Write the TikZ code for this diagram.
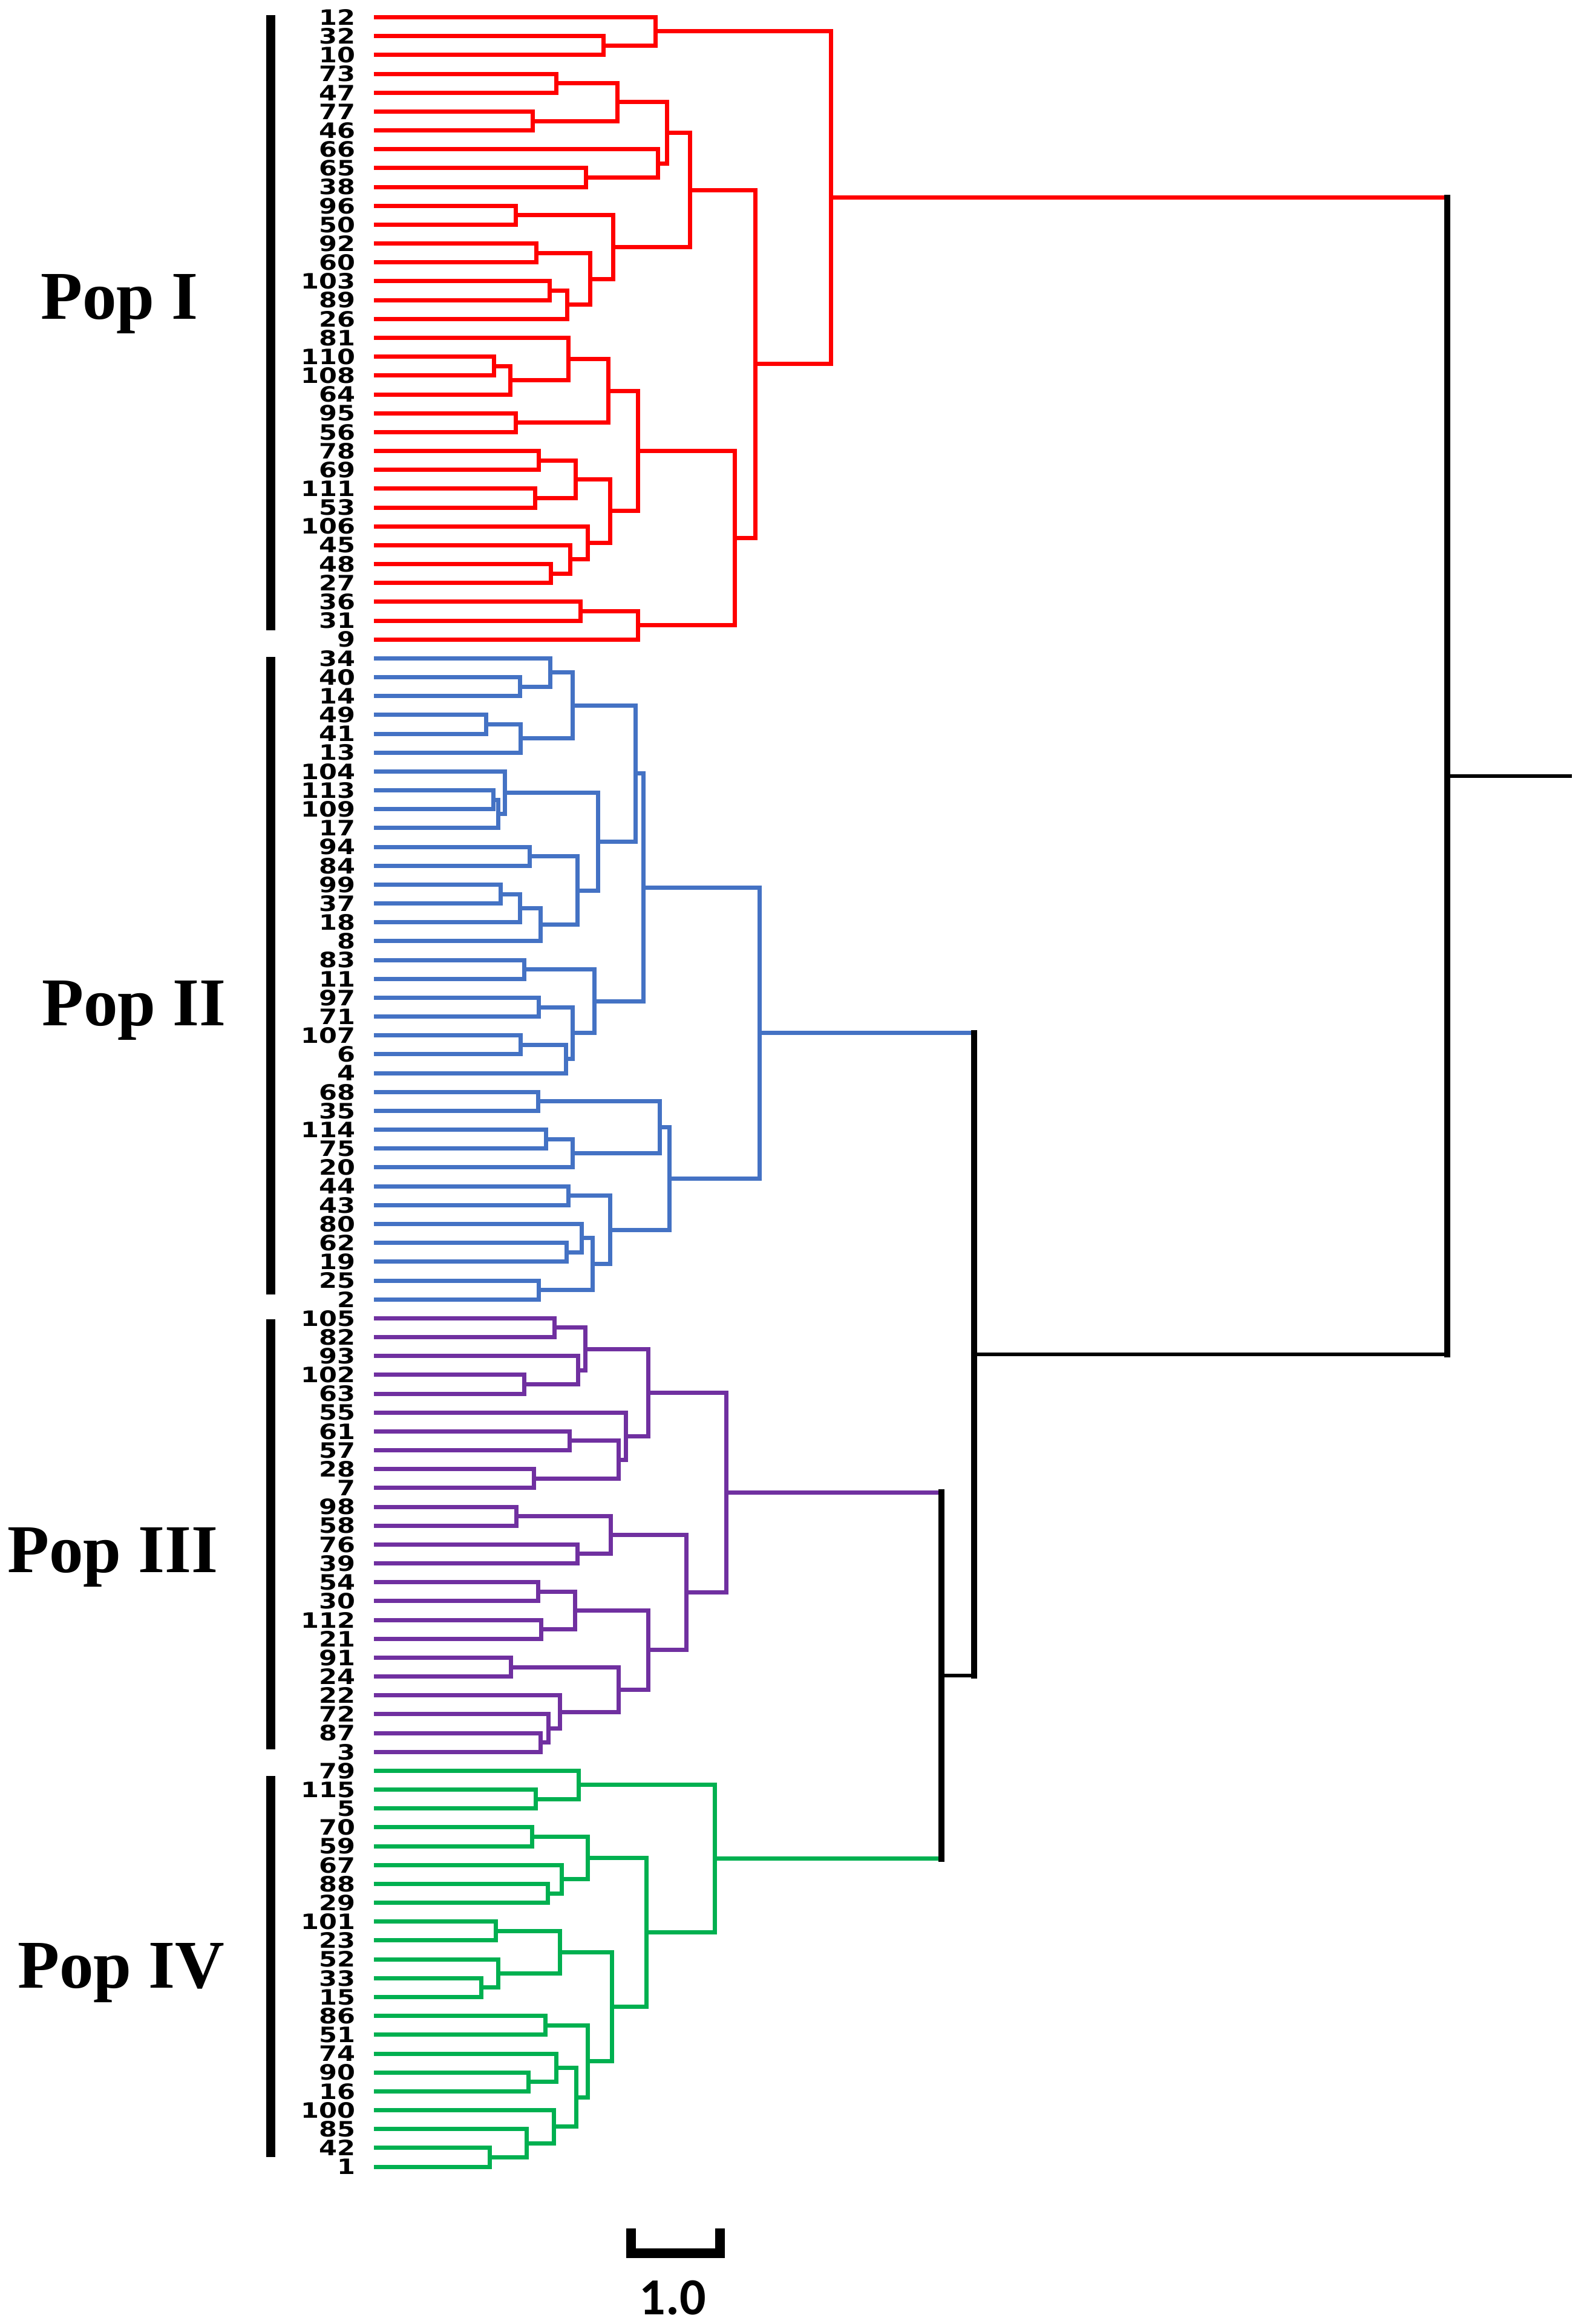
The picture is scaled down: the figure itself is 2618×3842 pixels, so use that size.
\documentclass[tikz,border=0pt]{standalone}
\usepackage{fontspec}
\usepackage{graphicx}
\newfontfamily\lblf{DejaVu Sans}
\newfontfamily\popf{Liberation Serif}
\newfontfamily\sclf{Carlito}
\definecolor{cI}{RGB}{255,0,0}
\definecolor{cII}{HTML}{4472C4}
\definecolor{cIII}{HTML}{7030A0}
\definecolor{cIV}{HTML}{00B050}
\tikzset{
  lnI/.style={draw=cI,line width=7pt,line join=miter},
  lnII/.style={draw=cII,line width=7pt,line join=miter},
  lnIII/.style={draw=cIII,line width=7pt,line join=miter},
  lnIV/.style={draw=cIV,line width=7pt,line join=miter},
  blkh/.style={draw=black,line width=6pt},
  blkv/.style={draw=black,line width=10pt,line cap=rect},
  lbl/.style={anchor=east,inner sep=0pt,text=black,font=\lblf\bfseries\fontsize{35pt}{35pt}\selectfont},
  poplbl/.style={anchor=base west,inner sep=0pt,font=\popf\bfseries\fontsize{113pt}{113pt}\selectfont},
  popbar/.style={draw=black,line width=15pt},
  sclbl/.style={anchor=base,inner sep=0pt,font=\sclf\bfseries\fontsize{86pt}{86pt}\selectfont}
}
\newcommand\leafnode[2]{%
  \pgfmathsetmacro\tmpy{28.6+31.17*#1}%
  \expandafter\xdef\csname Y@l#2\endcsname{\tmpy}%
  \node[lbl] (t#2) at (588,\tmpy) {\scalebox{1.23}[1]{#2}};%
  \coordinate (l#2) at (618,\tmpy);%
}
\newcommand\joinnode[5]{%
  \pgfmathsetmacro\tmpy{0.5*(\csname Y@#3\endcsname+\csname Y@#4\endcsname)}%
  \expandafter\xdef\csname Y@#1\endcsname{\tmpy}%
  \coordinate (#1) at (#2,\tmpy);%
  \draw[#5] (#3) -| (#1) |- (#4);%
}
\newcommand\topjoin[6]{%
  \pgfmathsetmacro\tmpy{0.5*(\csname Y@#3\endcsname+\csname Y@#5\endcsname)}%
  \expandafter\xdef\csname Y@#1\endcsname{\tmpy}%
  \coordinate (#1) at (#2,\tmpy);%
  \draw[#4] (#3) -- (#1 |- #3);%
  \draw[#6] (#5) -- (#1 |- #5);%
  \draw[blkv] (#1 |- #3) -- (#1 |- #5);%
}
\begin{document}
\begin{tikzpicture}[x=1pt,y=-1pt]
\useasboundingbox (0,0) rectangle (2618,3842);
% leaves
\foreach \lab [count=\i from 0] in {12,32,10,73,47,77,46,66,65,38,96,50,92,60,103,89,26,81,110,108,64,95,56,78,69,111,53,106,45,48,27,36,31,9,
34,40,14,49,41,13,104,113,109,17,94,84,99,37,18,8,83,11,97,71,107,6,4,68,35,114,75,20,44,43,80,62,19,25,2,
105,82,93,102,63,55,61,57,28,7,98,58,76,39,54,30,112,21,91,24,22,72,87,3,
79,115,5,70,59,67,88,29,101,23,52,33,15,86,51,74,90,16,100,85,42,1}
  {\leafnode{\i}{\lab}}
% Pop I
\joinnode{a1}{997}{l32}{l10}{lnI}
\joinnode{a2}{1083}{l12}{a1}{lnI}
\joinnode{a3}{919}{l73}{l47}{lnI}
\joinnode{a4}{880}{l77}{l46}{lnI}
\joinnode{a5}{1020}{a3}{a4}{lnI}
\joinnode{a6}{968}{l65}{l38}{lnI}
\joinnode{a7}{1087}{l66}{a6}{lnI}
\joinnode{a8}{1102}{a5}{a7}{lnI}
\joinnode{a9}{852}{l96}{l50}{lnI}
\joinnode{a10}{886}{l92}{l60}{lnI}
\joinnode{a11}{908}{l103}{l89}{lnI}
\joinnode{a12}{937}{a11}{l26}{lnI}
\joinnode{a13}{975}{a10}{a12}{lnI}
\joinnode{a14}{1013}{a9}{a13}{lnI}
\joinnode{a15}{1140}{a8}{a14}{lnI}
\joinnode{a16}{816}{l110}{l108}{lnI}
\joinnode{a17}{843}{a16}{l64}{lnI}
\joinnode{a18}{939}{l81}{a17}{lnI}
\joinnode{a19}{852}{l95}{l56}{lnI}
\joinnode{a20}{1005}{a18}{a19}{lnI}
\joinnode{a21}{890}{l78}{l69}{lnI}
\joinnode{a22}{884}{l111}{l53}{lnI}
\joinnode{a23}{951}{a21}{a22}{lnI}
\joinnode{a24}{910}{l48}{l27}{lnI}
\joinnode{a25}{942}{l45}{a24}{lnI}
\joinnode{a26}{971}{l106}{a25}{lnI}
\joinnode{a27}{1008}{a23}{a26}{lnI}
\joinnode{a28}{1054}{a20}{a27}{lnI}
\joinnode{a29}{959}{l36}{l31}{lnI}
\joinnode{a30}{1054}{a29}{l9}{lnI}
\joinnode{a31}{1214}{a28}{a30}{lnI}
\joinnode{a32}{1248}{a15}{a31}{lnI}
\joinnode{pI}{1373}{a2}{a32}{lnI}
% Pop II
\joinnode{b1}{859}{l40}{l14}{lnII}
\joinnode{b2}{909}{l34}{b1}{lnII}
\joinnode{b3}{803}{l49}{l41}{lnII}
\joinnode{b4}{860}{b3}{l13}{lnII}
\joinnode{b5}{946}{b2}{b4}{lnII}
\joinnode{b6}{815}{l113}{l109}{lnII}
\joinnode{b7}{823}{b6}{l17}{lnII}
\joinnode{b8}{834}{l104}{b7}{lnII}
\joinnode{b9}{875}{l94}{l84}{lnII}
\joinnode{b10}{827}{l99}{l37}{lnII}
\joinnode{b11}{859}{b10}{l18}{lnII}
\joinnode{b12}{893}{b11}{l8}{lnII}
\joinnode{b13}{954}{b9}{b12}{lnII}
\joinnode{b14}{988}{b8}{b13}{lnII}
\joinnode{b15}{1050}{b5}{b14}{lnII}
\joinnode{b16}{866}{l83}{l11}{lnII}
\joinnode{b17}{890}{l97}{l71}{lnII}
\joinnode{b18}{860}{l107}{l6}{lnII}
\joinnode{b19}{935}{b18}{l4}{lnII}
\joinnode{b20}{946}{b17}{b19}{lnII}
\joinnode{b21}{982}{b16}{b20}{lnII}
\joinnode{b22}{1063}{b15}{b21}{lnII}
\joinnode{b23}{889}{l68}{l35}{lnII}
\joinnode{b24}{902}{l114}{l75}{lnII}
\joinnode{b25}{946}{b24}{l20}{lnII}
\joinnode{b26}{1090}{b23}{b25}{lnII}
\joinnode{b27}{939}{l44}{l43}{lnII}
\joinnode{b28}{936}{l62}{l19}{lnII}
\joinnode{b29}{961}{l80}{b28}{lnII}
\joinnode{b30}{890}{l25}{l2}{lnII}
\joinnode{b31}{979}{b29}{b30}{lnII}
\joinnode{b32}{1008}{b27}{b31}{lnII}
\joinnode{b33}{1106}{b26}{b32}{lnII}
\joinnode{pII}{1255}{b22}{b33}{lnII}
% Pop III
\joinnode{c1}{916}{l105}{l82}{lnIII}
\joinnode{c2}{866}{l102}{l63}{lnIII}
\joinnode{c3}{955}{l93}{c2}{lnIII}
\joinnode{c4}{967}{c1}{c3}{lnIII}
\joinnode{c5}{941}{l61}{l57}{lnIII}
\joinnode{c6}{882}{l28}{l7}{lnIII}
\joinnode{c7}{1022}{c5}{c6}{lnIII}
\joinnode{c8}{1034}{l55}{c7}{lnIII}
\joinnode{c9}{1071}{c4}{c8}{lnIII}
\joinnode{c10}{853}{l98}{l58}{lnIII}
\joinnode{c11}{954}{l76}{l39}{lnIII}
\joinnode{c12}{1009}{c10}{c11}{lnIII}
\joinnode{c13}{889}{l54}{l30}{lnIII}
\joinnode{c14}{894}{l112}{l21}{lnIII}
\joinnode{c15}{950}{c13}{c14}{lnIII}
\joinnode{c16}{844}{l91}{l24}{lnIII}
\joinnode{c17}{893}{l87}{l3}{lnIII}
\joinnode{c18}{906}{l72}{c17}{lnIII}
\joinnode{c19}{925}{l22}{c18}{lnIII}
\joinnode{c20}{1022}{c16}{c19}{lnIII}
\joinnode{c21}{1071}{c15}{c20}{lnIII}
\joinnode{c22}{1134}{c12}{c21}{lnIII}
\joinnode{pIII}{1200}{c9}{c22}{lnIII}
% Pop IV
\joinnode{d1}{885}{l115}{l5}{lnIV}
\joinnode{d2}{956}{l79}{d1}{lnIV}
\joinnode{d3}{879}{l70}{l59}{lnIV}
\joinnode{d4}{905}{l88}{l29}{lnIV}
\joinnode{d5}{928}{l67}{d4}{lnIV}
\joinnode{d6}{971}{d3}{d5}{lnIV}
\joinnode{d7}{819}{l101}{l23}{lnIV}
\joinnode{d8}{795}{l33}{l15}{lnIV}
\joinnode{d9}{823}{l52}{d8}{lnIV}
\joinnode{d10}{925}{d7}{d9}{lnIV}
\joinnode{d11}{901}{l86}{l51}{lnIV}
\joinnode{d12}{873}{l90}{l16}{lnIV}
\joinnode{d13}{919}{l74}{d12}{lnIV}
\joinnode{d14}{809}{l42}{l1}{lnIV}
\joinnode{d15}{870}{l85}{d14}{lnIV}
\joinnode{d16}{915}{l100}{d15}{lnIV}
\joinnode{d17}{952}{d13}{d16}{lnIV}
\joinnode{d18}{971}{d11}{d17}{lnIV}
\joinnode{d19}{1011}{d10}{d18}{lnIV}
\joinnode{d20}{1068}{d6}{d19}{lnIV}
\joinnode{pIV}{1181}{d2}{d20}{lnIV}
% top level
\topjoin{k1}{1556}{pIII}{lnIII}{pIV}{lnIV}
\topjoin{k2}{1610}{pII}{lnII}{k1}{blkh}
\topjoin{k3}{2392}{pI}{lnI}{k2}{blkh}
\coordinate (rootend) at (2598,\csname Y@k3\endcsname);
\draw[blkh] (k3) -- (rootend);
% population bars and labels
\draw[popbar] (447,25) -- (447,1042);
\draw[popbar] (447,1086) -- (447,2140);
\draw[popbar] (447,2181) -- (447,2892);
\draw[popbar] (447,2936) -- (447,3566);
\node[poplbl] (popI) at (67,527) {Pop I};
\node[poplbl] (popII) at (69,1695) {Pop II};
\node[poplbl] (popIII) at (12,2599) {Pop III};
\node[poplbl] (popIV) at (29,3286) {Pop IV};
% scale bar
\draw[draw=black,line width=16pt,line join=miter] (1043,3684) -- (1043,3725) -- (1190,3725) -- (1190,3684);
\node[sclbl] (scl) at (1112,3826) {1.0};
\end{tikzpicture}
\end{document}
